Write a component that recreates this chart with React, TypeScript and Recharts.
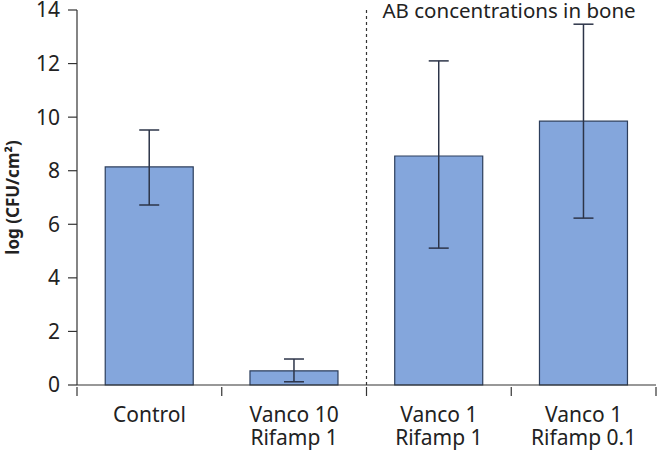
import React from 'react';
import { BarChart, Bar, XAxis, YAxis, ErrorBar, ReferenceLine } from 'recharts';

const categories = ['Control', 'Vanco 10\nRifamp 1', 'Vanco 1\nRifamp 1', 'Vanco 1\nRifamp 0.1'];
const means = [8.14, 0.53, 8.55, 9.85];
const lowerBounds = [6.72, 0.12, 5.11, 6.23];
const upperBounds = [9.52, 0.97, 12.1, 13.47];
const yTicks = [0, 2, 4, 6, 8, 10, 12, 14];
const groupBoundaryCategory = categories[2];

const data = categories.map((name, i) => ({
  name,
  value: means[i],
  err: [means[i] - lowerBounds[i], upperBounds[i] - means[i]],
}));

const FONT = '"Noto Sans", sans-serif';
const AXIS = '#333333';

const CatTick = (props: any) => {
  const { x, y, payload, index, width } = props;
  const half = payload && typeof payload.offset === 'number' && payload.offset > 0
    ? payload.offset
    : (width || 580) / categories.length / 2;
  const lines = String(payload.value).split('\n');
  const isLast = index === categories.length - 1;
  return (
    <g transform={`translate(${x},${y})`}>
      <line x1={-half} x2={-half} y1={0} y2={9} stroke={AXIS} strokeWidth={1.2} />
      {isLast && <line x1={half} x2={half} y1={0} y2={9} stroke={AXIS} strokeWidth={1.2} />}
      {lines.map((l, i) => (
        <text key={i} x={0} y={35 + i * 23} textAnchor="middle" fontFamily={FONT} fontSize={21} fill="#222">
          {l}
        </text>
      ))}
    </g>
  );
};

const TopLabel = (props: any) => {
  const vb = props.viewBox || {};
  return (
    <text x={(vb.x || 0) + 16} y={18} fontFamily={FONT} fontSize={20.5} fill="#222">
      AB concentrations in bone
    </text>
  );
};

export default function App() {
  return (
    <div style={{ position: 'absolute', left: 0, top: 0, background: '#fff' }}>
      <BarChart
        width={657}
        height={451}
        data={data}
        margin={{ top: 10, right: 1, left: 0, bottom: 0 }}
        barCategoryGap="19.5%"
      >
        <XAxis
          dataKey="name"
          height={66}
          tickLine={false}
          interval={0}
          tickSize={0}
          tick={<CatTick />}
          axisLine={{ stroke: AXIS, strokeWidth: 1.2 }}
        />
        <YAxis
          width={77}
          domain={[0, 14]}
          ticks={yTicks}
          interval={0}
          tickSize={9}
          tickMargin={8}
          stroke={AXIS}
          axisLine={{ stroke: AXIS, strokeWidth: 1.2 }}
          tickLine={{ stroke: AXIS, strokeWidth: 1.2 }}
          tick={{ fontFamily: FONT, fontSize: 21, fill: '#222' }}
          label={{
            value: 'log (CFU/cm²)',
            angle: -90,
            position: 'insideLeft',
            offset: 13,
            style: { fontFamily: FONT, fontSize: 17, fontWeight: 700, fill: '#222', textAnchor: 'middle' },
          }}
        />
        <ReferenceLine
          x={groupBoundaryCategory}
          position="start"
          stroke={AXIS}
          strokeWidth={1.2}
          strokeDasharray="3 3"
          label={<TopLabel />}
        />
        <Bar
          dataKey="value"
          fill="#84a6dc"
          stroke="#2c3e5c"
          strokeWidth={1.2}
          isAnimationActive={false}
        >
          <ErrorBar dataKey="err" width={10} stroke="#2c3448" strokeWidth={1.5} direction="y" />
        </Bar>
      </BarChart>
    </div>
  );
}
